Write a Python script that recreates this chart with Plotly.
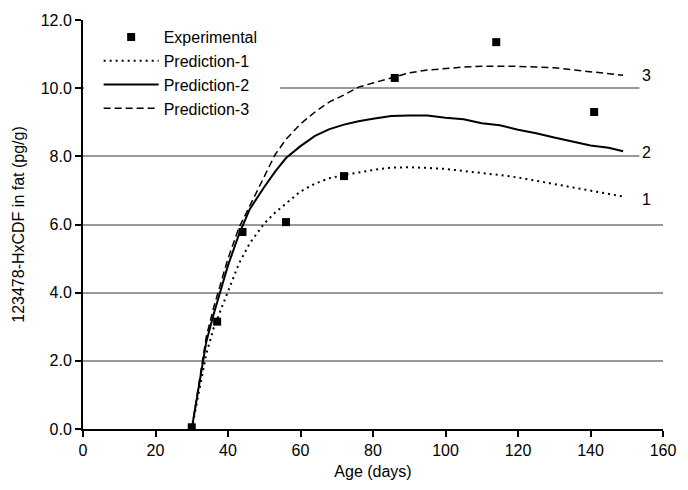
import plotly.graph_objects as go

# Experimental data
exp_days = [30, 37, 44, 56, 72, 86, 114, 141]
exp_vals = [0.05, 3.15, 5.78, 6.07, 7.42, 10.3, 11.35, 9.3]

# Prediction curves
pred_days = [30, 32, 34, 36, 38, 40, 43, 46, 50, 53, 56, 60, 64, 68, 72, 76, 80,
             85, 90, 95, 100, 105, 110, 115, 120, 125, 130, 135, 140, 145, 149]
pred1 = [0.0, 1.1, 2.2, 2.95, 3.5, 4.05, 4.85, 5.45, 6.03, 6.35, 6.62, 6.97, 7.2, 7.36,
         7.45, 7.53, 7.6, 7.67, 7.68, 7.66, 7.63, 7.57, 7.52, 7.45, 7.38, 7.28, 7.18,
         7.08, 6.98, 6.9, 6.82]
pred2 = [0.0, 1.3, 2.55, 3.35, 4.05, 4.8, 5.7, 6.45, 7.1, 7.55, 7.95, 8.3, 8.6, 8.8,
         8.93, 9.03, 9.1, 9.18, 9.2, 9.2, 9.13, 9.09, 8.97, 8.91, 8.78, 8.68, 8.55,
         8.44, 8.32, 8.25, 8.15]
pred3 = [0.0, 1.4, 2.7, 3.55, 4.3, 5.0, 5.9, 6.55, 7.4, 8.05, 8.5, 8.95, 9.3, 9.6,
         9.8, 10.03, 10.15, 10.3, 10.45, 10.53, 10.58, 10.62, 10.64, 10.65, 10.64,
         10.62, 10.6, 10.54, 10.48, 10.43, 10.38]

curve_labels = ["1", "2", "3"]
label_x = 155.5
label_y = [6.72, 8.1, 10.36]

x_ticks = [0, 20, 40, 60, 80, 100, 120, 140, 160]
y_ticks = [0, 2, 4, 6, 8, 10, 12]

FONT = "Liberation Sans, Arial, sans-serif"
FS = 16

fig = go.Figure()
fig.add_trace(go.Scatter(x=exp_days, y=exp_vals, mode="markers", name="Experimental",
                         legendgroup="a",
                         marker=dict(symbol="square", size=8, color="black")))
fig.add_trace(go.Scatter(x=pred_days, y=pred1, mode="lines", name="Prediction-1",
                         legendgroup="b",
                         line=dict(color="black", width=2, dash="2px,4px")))
fig.add_trace(go.Scatter(x=pred_days, y=pred2, mode="lines", name="Prediction-2",
                         legendgroup="c",
                         line=dict(color="black", width=2)))
fig.add_trace(go.Scatter(x=pred_days, y=pred3, mode="lines", name="Prediction-3",
                         legendgroup="d",
                         line=dict(color="black", width=1.5, dash="7px,4px")))

for t, yv in zip(curve_labels, label_y):
    fig.add_annotation(x=label_x, y=yv, text=t, showarrow=False,
                       font=dict(size=FS, color="black", family=FONT),
                       xanchor="center", yanchor="middle")

# white patches hiding gridlines behind the legend box and the curve labels
for (x0, x1, yc) in [(0.3, 54.4, 10), (153.5, 160, 10), (153.5, 160, 8)]:
    fig.add_shape(type="rect", xref="x", yref="y", x0=x0, x1=x1, y0=yc - 0.1, y1=yc + 0.1,
                  fillcolor="white", line=dict(width=0), layer="between")

fig.update_layout(
    width=688, height=490,
    margin=dict(l=83, r=17, t=20, b=61),
    paper_bgcolor="white", plot_bgcolor="white",
    font=dict(family=FONT, size=FS, color="black"),
    showlegend=True,
    legend=dict(x=0.027, y=1.0, xanchor="left", yanchor="top",
                bgcolor="rgba(0,0,0,0)", borderwidth=0,
                font=dict(size=FS, family=FONT),
                traceorder="grouped", tracegroupgap=0, itemwidth=55),
    xaxis=dict(range=[0, 160], tickvals=x_ticks, ticktext=[str(v) for v in x_ticks],
               showgrid=False, zeroline=False, showline=True, linecolor="black",
               linewidth=2, ticks="outside", ticklen=6, tickwidth=2, tickcolor="black",
               title=dict(text="Age (days)", font=dict(size=FS), standoff=8),
               tickfont=dict(size=FS)),
    yaxis=dict(range=[0, 12], tickvals=y_ticks, ticktext=[f"{v:.1f}" for v in y_ticks],
               showgrid=True, gridcolor="#999999", gridwidth=1.5, zeroline=False,
               showline=True, linecolor="black", linewidth=2, ticks="outside",
               ticklen=6, tickwidth=2, tickcolor="black",
               title=dict(text="123478-HxCDF in fat (pg/g)", font=dict(size=FS), standoff=12),
               tickfont=dict(size=FS)),
)

fig.write_html("out.html")
